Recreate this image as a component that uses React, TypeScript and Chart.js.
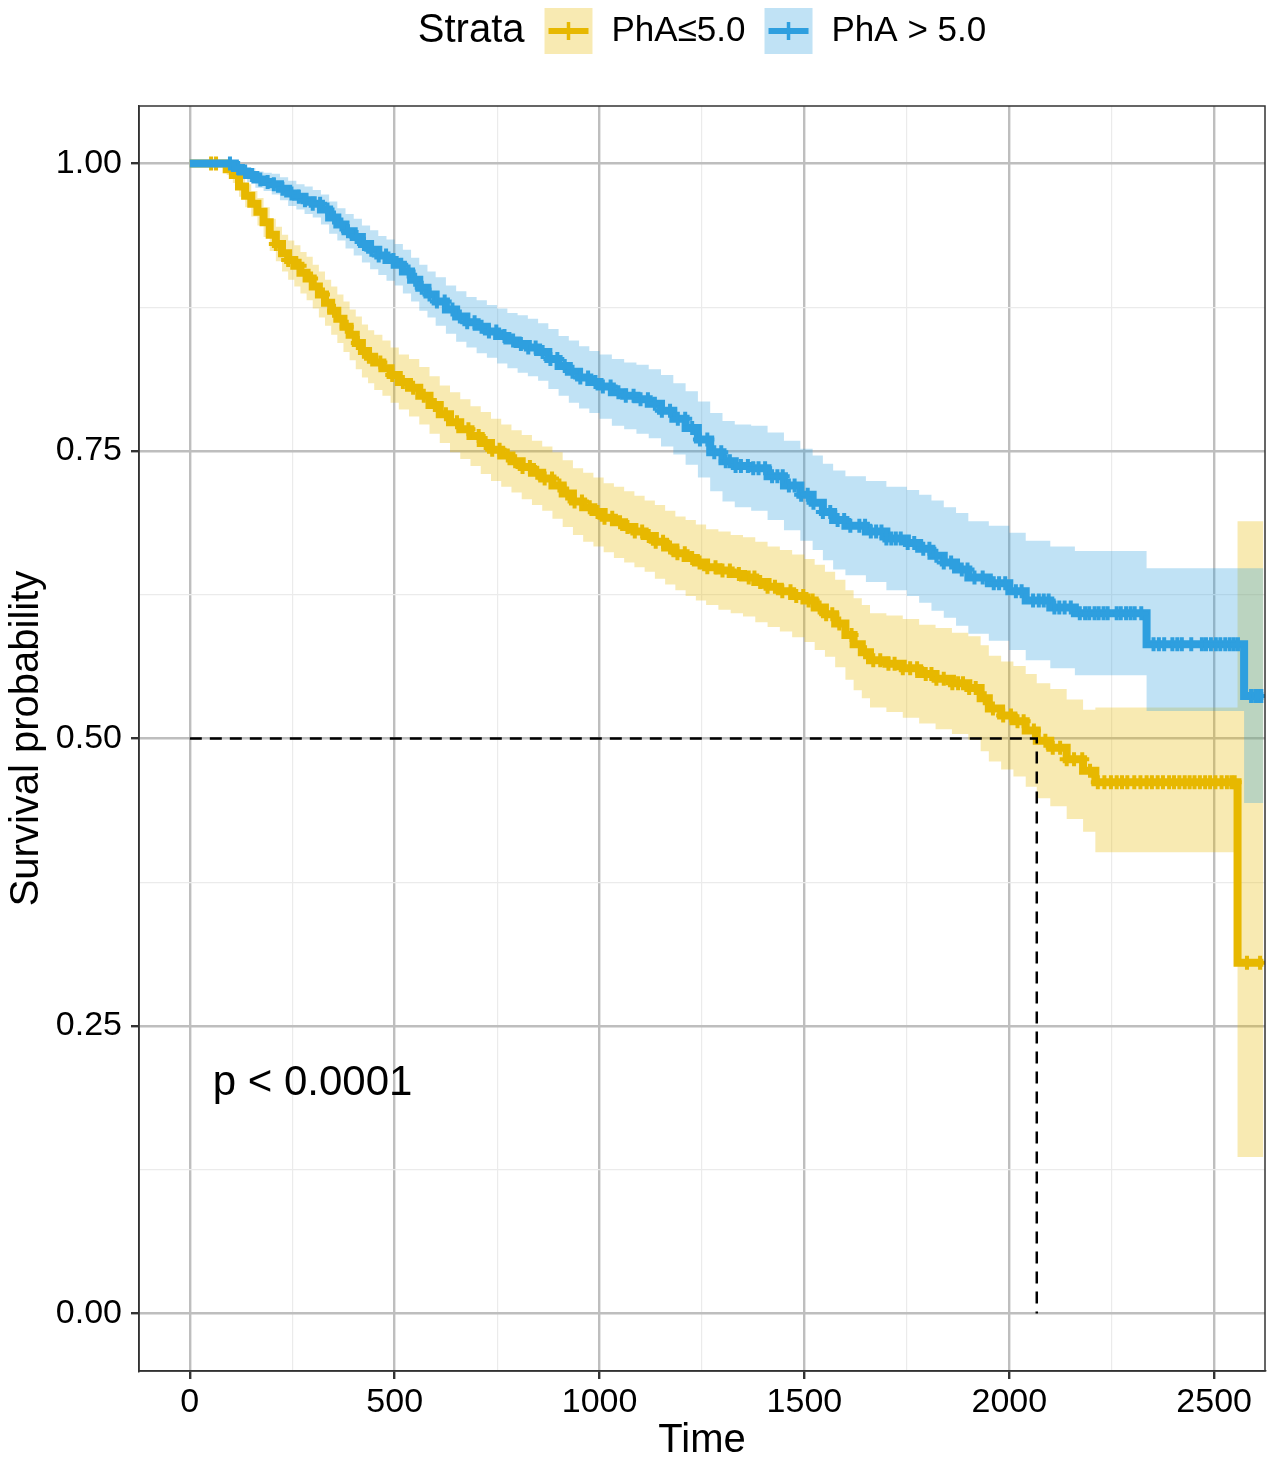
import { useEffect, useRef } from 'react';
import { Chart, registerables } from 'chart.js';
import type { Plugin, ChartConfiguration } from 'chart.js';

Chart.register(...registerables);

const FONT = '"Liberation Sans", Arial, Helvetica, sans-serif';
const YELLOW = '#E7B800';
const BLUE = '#2E9FDF';
const YELLOW_BAND = 'rgba(231, 184, 0, 0.3)';
const BLUE_BAND = 'rgba(46, 159, 223, 0.3)';

const legendTitle = 'Strata';
const strataLabels = ['PhA\u22645.0', 'PhA > 5.0'];
const pValueText = 'p < 0.0001';
const pValuePos = [56, 0.2];

// axis ticks
const xTicks = [0, 500, 1000, 1500, 2000, 2500];
const xMinorTicks = [250, 750, 1250, 1750, 2250];
const yTicks = [0, 0.25, 0.5, 0.75, 1.0];
const yMinorTicks = [0.125, 0.375, 0.625, 0.875];
const xRange = [-124, 2624];
const yRange = [-0.05, 1.05];

// PhA > 5.0 (blue)
const blueTime = [
  0, 95, 110, 125, 140, 160, 180, 200, 220, 240,
  260, 280, 300, 320, 340, 360, 380, 400, 420, 440,
  460, 480, 500, 520, 540, 560, 580, 600, 625, 650,
  675, 700, 725, 750, 775, 800, 825, 850, 875, 900,
  925, 950, 975, 1000, 1030, 1060, 1090, 1120, 1150, 1180,
  1210, 1240, 1270, 1300, 1330, 1370, 1410, 1450, 1490, 1520,
  1545, 1570, 1600, 1650, 1700, 1750, 1780, 1810, 1840, 1870,
  1900, 1950, 2000, 2040, 2100, 2160, 2335, 2573, 2620,
];
const blueSurv = [
  1.0, 1.0, 0.996, 0.993, 0.99, 0.986, 0.984, 0.982, 0.978, 0.974,
  0.971, 0.968, 0.965, 0.96, 0.953, 0.947, 0.941, 0.936, 0.93, 0.925,
  0.92, 0.916, 0.912, 0.906, 0.899, 0.892, 0.886, 0.88, 0.873, 0.867,
  0.862, 0.858, 0.854, 0.85, 0.846, 0.843, 0.84, 0.836, 0.83, 0.824,
  0.819, 0.814, 0.81, 0.806, 0.801, 0.798, 0.795, 0.791, 0.785, 0.778,
  0.77, 0.76, 0.749, 0.741, 0.737, 0.735, 0.728, 0.72, 0.712, 0.705,
  0.697, 0.69, 0.685, 0.68, 0.674, 0.67, 0.665, 0.659, 0.653, 0.647,
  0.64, 0.635, 0.628, 0.62, 0.614, 0.609, 0.582, 0.537, 0.537,
];
const blueLower = [
  1, 1, 0.992, 0.988, 0.984, 0.979, 0.976, 0.973, 0.968, 0.963,
  0.96, 0.956, 0.953, 0.947, 0.939, 0.933, 0.926, 0.92, 0.914, 0.908,
  0.903, 0.898, 0.894, 0.887, 0.88, 0.872, 0.866, 0.859, 0.852, 0.845,
  0.84, 0.835, 0.831, 0.826, 0.822, 0.818, 0.815, 0.811, 0.804, 0.798,
  0.792, 0.787, 0.783, 0.778, 0.772, 0.769, 0.765, 0.761, 0.754, 0.747,
  0.738, 0.727, 0.715, 0.706, 0.701, 0.698, 0.69, 0.681, 0.672, 0.664,
  0.655, 0.647, 0.642, 0.636, 0.629, 0.624, 0.618, 0.611, 0.605, 0.598,
  0.591, 0.585, 0.577, 0.568, 0.561, 0.555, 0.524, 0.444, 0.444,
];
const blueUpper = [
  1, 1, 0.999, 0.998, 0.996, 0.993, 0.992, 0.991, 0.988, 0.985,
  0.982, 0.98, 0.977, 0.973, 0.967, 0.961, 0.956, 0.952, 0.946, 0.942,
  0.937, 0.934, 0.93, 0.925, 0.918, 0.912, 0.906, 0.901, 0.894, 0.889,
  0.884, 0.881, 0.877, 0.874, 0.87, 0.868, 0.865, 0.861, 0.856, 0.85,
  0.846, 0.841, 0.837, 0.834, 0.83, 0.827, 0.825, 0.821, 0.816, 0.809,
  0.802, 0.793, 0.783, 0.776, 0.773, 0.772, 0.766, 0.759, 0.752, 0.746,
  0.739, 0.733, 0.728, 0.724, 0.719, 0.716, 0.712, 0.707, 0.701, 0.696,
  0.689, 0.685, 0.679, 0.672, 0.667, 0.663, 0.648, 0.648, 0.648,
];
const blueCensor = [
  98, 118, 135, 152, 172, 190, 205, 226, 248, 266, 281, 300, 318, 336, 352, 370, 386, 407, 425, 443,
  461, 479, 497, 516, 534, 550, 566, 585, 603, 622, 641, 659, 677, 695, 712, 730, 748, 768, 789, 808,
  826, 844, 861, 880, 897, 915, 934, 953, 972, 990, 1008, 1027, 1046, 1064, 1083, 1100, 1118, 1135,
  1152, 1172, 1191, 1209, 1226, 1245, 1263, 1280, 1297, 1308, 1318, 1332, 1345, 1362, 1375, 1388, 1404,
  1421, 1434, 1447, 1462, 1476, 1492, 1508, 1522, 1545, 1563, 1581, 1597, 1612, 1634, 1648, 1662, 1675,
  1688, 1700, 1712, 1723, 1735, 1752, 1768, 1790, 1805, 1822, 1840, 1858, 1884, 1898, 1915, 1935, 1962,
  1975, 1990, 2016, 2030, 2058, 2072, 2084, 2096, 2110, 2122, 2135, 2150, 2172, 2185, 2195, 2208, 2218,
  2230, 2240, 2262, 2272, 2285, 2296, 2306, 2322, 2352, 2365, 2378, 2398, 2410, 2421, 2444, 2470, 2480,
  2492, 2504, 2515, 2527, 2538, 2548, 2558, 2590, 2600, 2608, 2615,
];

// PhA <= 5.0 (yellow)
const yellowTime = [
  0, 75, 90, 105, 120, 135, 150, 165, 180, 195,
  210, 225, 240, 255, 270, 285, 300, 315, 330, 345,
  360, 375, 390, 405, 420, 435, 450, 470, 490, 510,
  535, 560, 585, 610, 635, 660, 685, 710, 735, 760,
  785, 810, 835, 860, 885, 910, 935, 960, 985, 1010,
  1035, 1060, 1085, 1110, 1135, 1160, 1185, 1210, 1235, 1260,
  1290, 1320, 1350, 1380, 1410, 1440, 1470, 1500, 1525, 1550,
  1575, 1600, 1620, 1640, 1660, 1700, 1740, 1780, 1820, 1860,
  1900, 1930, 1950, 1980, 2010, 2040, 2067, 2100, 2140, 2180,
  2210, 2557, 2620,
];
const yellowSurv = [
  1.0, 1.0, 0.995, 0.99, 0.98, 0.972, 0.965, 0.958, 0.949, 0.938,
  0.93, 0.922, 0.916, 0.911, 0.905, 0.9, 0.893, 0.886, 0.879, 0.872,
  0.865, 0.858, 0.851, 0.844, 0.837, 0.832, 0.827, 0.822, 0.816, 0.81,
  0.805, 0.798, 0.79, 0.782, 0.775, 0.769, 0.763, 0.757, 0.751, 0.746,
  0.741, 0.736, 0.731, 0.726, 0.72, 0.713, 0.706, 0.701, 0.697, 0.692,
  0.688, 0.684, 0.68, 0.676, 0.671, 0.666, 0.661, 0.657, 0.653, 0.649,
  0.646, 0.643, 0.64, 0.636, 0.632, 0.628, 0.624, 0.62, 0.614, 0.608,
  0.6, 0.59, 0.582, 0.575, 0.568, 0.565, 0.561, 0.556, 0.552, 0.548,
  0.544, 0.535, 0.526, 0.52, 0.515, 0.507, 0.498, 0.492, 0.482, 0.472,
  0.462, 0.305, 0.305,
];
const yellowLower = [
  1, 1, 0.99, 0.983, 0.971, 0.962, 0.954, 0.946, 0.936, 0.924,
  0.915, 0.906, 0.899, 0.893, 0.887, 0.881, 0.874, 0.866, 0.859, 0.851,
  0.844, 0.836, 0.829, 0.821, 0.814, 0.809, 0.803, 0.798, 0.792, 0.786,
  0.78, 0.773, 0.765, 0.757, 0.749, 0.743, 0.737, 0.73, 0.724, 0.719,
  0.714, 0.708, 0.703, 0.698, 0.691, 0.684, 0.677, 0.671, 0.667, 0.662,
  0.657, 0.653, 0.649, 0.645, 0.639, 0.634, 0.629, 0.624, 0.62, 0.616,
  0.612, 0.609, 0.606, 0.601, 0.597, 0.593, 0.588, 0.584, 0.577, 0.571,
  0.562, 0.551, 0.542, 0.535, 0.527, 0.523, 0.518, 0.513, 0.508, 0.504,
  0.499, 0.489, 0.48, 0.473, 0.467, 0.458, 0.448, 0.441, 0.43, 0.419,
  0.401, 0.136, 0.136,
];
const yellowUpper = [
  1, 1, 0.999, 0.997, 0.989, 0.982, 0.976, 0.97, 0.962, 0.952,
  0.945, 0.938, 0.933, 0.929, 0.923, 0.919, 0.912, 0.906, 0.899, 0.893,
  0.886, 0.88, 0.873, 0.867, 0.86, 0.855, 0.851, 0.846, 0.84, 0.834,
  0.83, 0.823, 0.815, 0.807, 0.801, 0.795, 0.789, 0.784, 0.778, 0.773,
  0.768, 0.764, 0.759, 0.754, 0.749, 0.742, 0.735, 0.731, 0.727, 0.722,
  0.719, 0.715, 0.711, 0.707, 0.703, 0.698, 0.693, 0.69, 0.686, 0.682,
  0.68, 0.677, 0.675, 0.671, 0.667, 0.664, 0.66, 0.656, 0.651, 0.645,
  0.638, 0.629, 0.622, 0.616, 0.609, 0.607, 0.604, 0.599, 0.596, 0.592,
  0.589, 0.581, 0.572, 0.567, 0.563, 0.556, 0.548, 0.543, 0.534, 0.525,
  0.527, 0.689, 0.689,
];
const yellowCensor = [
  52, 64, 210, 240, 268, 296, 325, 352, 383, 410, 437, 465, 494, 520, 545, 571, 598, 625, 652, 680,
  705, 722, 738, 756, 776, 794, 812, 830, 848, 866, 884, 902, 921, 939, 957, 976, 995, 1012, 1031,
  1050, 1068, 1086, 1104, 1120, 1137, 1155, 1172, 1190, 1208, 1226, 1244, 1263, 1283, 1300, 1318, 1340,
  1364, 1378, 1392, 1410, 1428, 1446, 1466, 1480, 1497, 1510, 1520, 1537, 1553, 1568, 1585, 1615, 1648,
  1668, 1685, 1705, 1720, 1740, 1758, 1775, 1796, 1810, 1822, 1840, 1861, 1875, 1887, 1902, 1918, 1940,
  1960, 1985, 2004, 2020, 2035, 2060, 2088, 2106, 2124, 2140, 2158, 2178, 2197, 2216, 2232, 2248, 2262,
  2275, 2288, 2305, 2320, 2335, 2348, 2362, 2375, 2390, 2402, 2415, 2428, 2440, 2452, 2465, 2478, 2490,
  2503, 2518, 2531, 2542, 2550, 2580, 2612,
];

// median survival of PhA<=5.0
const medianTime = 2067;
const medianLevel = 0.5;

const toPoints = (xs: number[], ys: number[]) => xs.map((x, i) => ({ x, y: ys[i] }));

const survAt = (times: number[], surv: number[], t: number) => {
  let s = surv[0];
  for (let i = 0; i < times.length; i++) {
    if (times[i] <= t) s = surv[i];
  }
  return s;
};

const censorPoints = (cens: number[], times: number[], surv: number[]) =>
  cens.map((t) => ({ x: t, y: survAt(times, surv, t) }));

const decorPlugin: Plugin<'line'> = {
  id: 'decor',
  afterDraw(chart) {
    const { ctx, chartArea, scales } = chart;
    ctx.save();
    // panel border
    ctx.strokeStyle = '#333333';
    ctx.lineWidth = 1.5;
    ctx.strokeRect(chartArea.left, chartArea.top, chartArea.right - chartArea.left, chartArea.bottom - chartArea.top);

    // p-value annotation
    ctx.fillStyle = '#000';
    ctx.font = `42px ${FONT}`;
    ctx.textAlign = 'left';
    ctx.textBaseline = 'middle';
    ctx.fillText(pValueText, scales.x.getPixelForValue(pValuePos[0]), scales.y.getPixelForValue(pValuePos[1]));

    // legend on top
    const cy = 31;
    const keyW = 48;
    const keyH = 46;
    ctx.font = `40px ${FONT}`;
    const titleW = ctx.measureText(legendTitle).width;
    ctx.font = `35px ${FONT}`;
    const labW = strataLabels.map((l) => ctx.measureText(l).width);
    const total = titleW + 20 + (keyW + 19) * 2 + labW[0] + 19 + labW[1];
    let x = (chartArea.left + chartArea.right) / 2 - total / 2;
    ctx.font = `40px ${FONT}`;
    ctx.fillText(legendTitle, x, cy);
    x += titleW + 20;
    const cols = [YELLOW, BLUE];
    const bands = [YELLOW_BAND, BLUE_BAND];
    strataLabels.forEach((lab, i) => {
      ctx.fillStyle = bands[i];
      ctx.fillRect(x, cy - keyH / 2, keyW, keyH);
      ctx.strokeStyle = cols[i];
      ctx.lineWidth = 6;
      ctx.beginPath();
      ctx.moveTo(x + 4, cy);
      ctx.lineTo(x + keyW - 4, cy);
      ctx.stroke();
      ctx.lineWidth = 3.5;
      ctx.beginPath();
      ctx.moveTo(x + keyW / 2, cy - 9);
      ctx.lineTo(x + keyW / 2, cy + 9);
      ctx.stroke();
      x += keyW + 19;
      ctx.fillStyle = '#000';
      ctx.font = `35px ${FONT}`;
      ctx.fillText(lab, x, cy);
      x += labW[i] + 19;
    });
    ctx.restore();
  },
};

const gridColor = (v: number, major: number[]) => (major.includes(v) ? '#BEBEBE' : '#EBEBEB');

export default function App() {
  const canvasRef = useRef<HTMLCanvasElement>(null);

  useEffect(() => {
    document.body.style.margin = '0';
    if (!canvasRef.current) return;
    const ctx = canvasRef.current.getContext('2d');
    if (!ctx) return;

    const bandStyle = { borderWidth: 0, pointRadius: 0, stepped: true as const };
    const censorStyle = {
      showLine: false,
      pointStyle: 'cross' as const,
      pointRadius: 7,
      pointBorderWidth: 4,
    };

    const config: ChartConfiguration<'line'> = {
      type: 'line',
      data: {
        datasets: [
          {
            label: 'median',
            data: [
              { x: 0, y: medianLevel },
              { x: medianTime, y: medianLevel },
              { x: medianTime, y: 0 },
            ],
            borderColor: '#000',
            borderWidth: 2.5,
            borderDash: [12, 8],
            pointRadius: 0,
            fill: false,
          },
          {
            label: strataLabels[1] + ' censor',
            data: censorPoints(blueCensor, blueTime, blueSurv),
            pointBorderColor: BLUE,
            ...censorStyle,
          },
          {
            label: strataLabels[1],
            data: toPoints(blueTime, blueSurv),
            borderColor: BLUE,
            borderWidth: 8,
            pointRadius: 0,
            stepped: true,
            fill: false,
          },
          {
            label: strataLabels[0] + ' censor',
            data: censorPoints(yellowCensor, yellowTime, yellowSurv),
            pointBorderColor: YELLOW,
            ...censorStyle,
          },
          {
            label: strataLabels[0],
            data: toPoints(yellowTime, yellowSurv),
            borderColor: YELLOW,
            borderWidth: 8,
            pointRadius: 0,
            stepped: true,
            fill: false,
          },
          {
            label: 'blue upper',
            data: toPoints(blueTime, blueUpper),
            backgroundColor: BLUE_BAND,
            fill: '+1',
            ...bandStyle,
          },
          { label: 'blue lower', data: toPoints(blueTime, blueLower), fill: false, ...bandStyle },
          {
            label: 'yellow upper',
            data: toPoints(yellowTime, yellowUpper),
            backgroundColor: YELLOW_BAND,
            fill: '+1',
            ...bandStyle,
          },
          { label: 'yellow lower', data: toPoints(yellowTime, yellowLower), fill: false, ...bandStyle },
        ],
      },
      options: {
        animation: false,
        responsive: true,
        maintainAspectRatio: false,
        events: [],
        layout: { padding: { left: 0, right: 0, top: 106, bottom: 0 } },
        plugins: { legend: { display: false }, tooltip: { enabled: false } },
        scales: {
          x: {
            type: 'linear',
            min: xRange[0],
            max: xRange[1],
            afterBuildTicks: (scale) => {
              scale.ticks = [...xTicks, ...xMinorTicks].sort((a, b) => a - b).map((v) => ({ value: v }));
            },
            afterFit: (scale) => {
              scale.height = 94;
            },
            ticks: {
              autoSkip: false,
              maxRotation: 0,
              padding: 3,
              color: '#000',
              font: { family: FONT, size: 34 },
              callback: (v) => (xTicks.includes(Number(v)) ? String(v) : ''),
            },
            grid: {
              color: (c) => gridColor(c.tick?.value, xTicks),
              lineWidth: (c) => (xTicks.includes(c.tick?.value) ? 2.4 : 1.2),
              tickColor: (c) => (xTicks.includes(c.tick?.value) ? '#333' : 'rgba(0,0,0,0)'),
              tickLength: 8,
              tickWidth: 2.4,
            },
            border: { display: true, color: '#333', width: 1.5 },
            title: {
              display: true,
              text: 'Time',
              color: '#000',
              font: { family: FONT, size: 40 },
              padding: { top: 0, bottom: 0 },
            },
          },
          y: {
            type: 'linear',
            min: yRange[0],
            max: yRange[1],
            afterBuildTicks: (scale) => {
              scale.ticks = [...yTicks, ...yMinorTicks].sort((a, b) => a - b).map((v) => ({ value: v }));
            },
            afterFit: (scale) => {
              scale.width = 139;
            },
            ticks: {
              autoSkip: false,
              padding: 9,
              color: '#000',
              font: { family: FONT, size: 34 },
              callback: (v) => (yTicks.includes(Number(v)) ? Number(v).toFixed(2) : ''),
            },
            grid: {
              color: (c) => gridColor(c.tick?.value, yTicks),
              lineWidth: (c) => (yTicks.includes(c.tick?.value) ? 2.4 : 1.2),
              tickColor: (c) => (yTicks.includes(c.tick?.value) ? '#333' : 'rgba(0,0,0,0)'),
              tickLength: 8,
              tickWidth: 2.4,
            },
            border: { display: true, color: '#333', width: 1.5 },
            title: {
              display: true,
              text: 'Survival probability',
              color: '#000',
              font: { family: FONT, size: 40 },
              padding: { top: 3, bottom: 0 },
            },
          },
        },
      },
      plugins: [decorPlugin],
    };

    const chart = new Chart(ctx, config);
    return () => {
      chart.destroy();
    };
  }, []);

  return (
    <div style={{ width: 1276, height: 1465, position: 'relative', background: '#fff' }}>
      <canvas ref={canvasRef} />
    </div>
  );
}
